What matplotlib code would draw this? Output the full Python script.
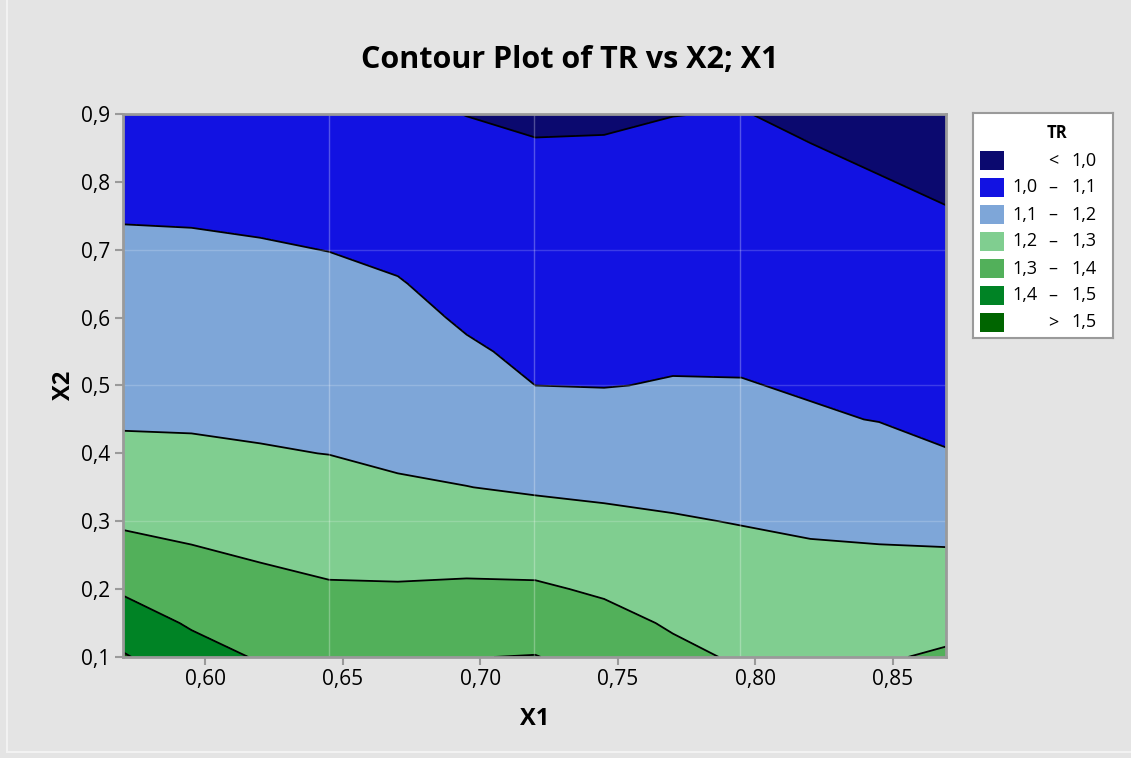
import numpy as np
import matplotlib
matplotlib.use("Agg")
import matplotlib.pyplot as plt
from matplotlib.patches import Rectangle

plt.rcParams['font.family'] = ['Open Sans', 'DejaVu Sans']

# Grid of fitted TR values: one list per X1 column, values run over X2 = 0.10 ... 0.90
x1_vals = [0.570, 0.595, 0.620, 0.645, 0.670, 0.695, 0.720, 0.745, 0.770, 0.795, 0.820, 0.845, 0.870]
x2_vals = [0.10, 0.15, 0.20, 0.25, 0.30, 0.35, 0.40, 0.45, 0.50, 0.55, 0.60, 0.65, 0.70, 0.75, 0.80, 0.85, 0.90]

tr_by_x1 = [
    [1.509, 1.448, 1.389, 1.338, 1.287, 1.257, 1.212, 1.194, 1.178, 1.162, 1.145, 1.129, 1.112, 1.096, 1.079, 1.063, 1.047],
    [1.438, 1.390, 1.350, 1.310, 1.278, 1.248, 1.210, 1.193, 1.177, 1.160, 1.144, 1.127, 1.111, 1.094, 1.078, 1.062, 1.045],
    [1.392, 1.359, 1.325, 1.293, 1.265, 1.236, 1.205, 1.188, 1.172, 1.155, 1.139, 1.122, 1.106, 1.089, 1.073, 1.056, 1.040],
    [1.370, 1.339, 1.308, 1.279, 1.252, 1.225, 1.199, 1.182, 1.165, 1.149, 1.132, 1.116, 1.099, 1.082, 1.066, 1.049, 1.033],
    [1.380, 1.343, 1.307, 1.275, 1.244, 1.207, 1.190, 1.173, 1.156, 1.138, 1.121, 1.104, 1.086, 1.067, 1.049, 1.030, 1.012],
    [1.398, 1.354, 1.312, 1.274, 1.238, 1.201, 1.178, 1.155, 1.132, 1.109, 1.091, 1.076, 1.060, 1.045, 1.030, 1.014, 0.999],
    [1.403, 1.357, 1.311, 1.269, 1.229, 1.191, 1.161, 1.130, 1.100, 1.086, 1.072, 1.059, 1.045, 1.032, 1.018, 1.004, 0.991],
    [1.365, 1.327, 1.289, 1.253, 1.217, 1.185, 1.156, 1.128, 1.098, 1.086, 1.073, 1.059, 1.046, 1.032, 1.019, 1.005, 0.992],
    [1.320, 1.291, 1.263, 1.235, 1.206, 1.181, 1.156, 1.131, 1.1035, 1.091, 1.078, 1.065, 1.051, 1.038, 1.025, 1.012, 0.999],
    [1.290, 1.266, 1.243, 1.220, 1.197, 1.174, 1.151, 1.128, 1.103, 1.090, 1.078, 1.065, 1.053, 1.040, 1.027, 1.015, 1.002],
    [1.285, 1.262, 1.237, 1.212, 1.187, 1.163, 1.138, 1.107, 1.094, 1.081, 1.068, 1.055, 1.041, 1.028, 1.015, 1.002, 0.988],
    [1.292, 1.266, 1.238, 1.209, 1.181, 1.153, 1.124, 1.098, 1.084, 1.071, 1.057, 1.044, 1.030, 1.016, 1.003, 0.989, 0.975],
    [1.311, 1.277, 1.242, 1.208, 1.174, 1.140, 1.102, 1.089, 1.074, 1.060, 1.046, 1.032, 1.018, 1.004, 0.990, 0.976, 0.962],
]

levels = [0.9, 1.0, 1.1, 1.2, 1.3, 1.4, 1.5, 1.6]
band_colors = ['#0b096f', '#1212e2', '#7ea6d8', '#80ce90', '#52b05a', '#008325', '#006500']
legend_labels = [('', '<', '1,0'), ('1,0', '–', '1,1'), ('1,1', '–', '1,2'), ('1,2', '–', '1,3'),
                 ('1,3', '–', '1,4'), ('1,4', '–', '1,5'), ('', '>', '1,5')]

x_ticks = [0.60, 0.65, 0.70, 0.75, 0.80, 0.85]
x_tick_labels = ['0,60', '0,65', '0,70', '0,75', '0,80', '0,85']
y_ticks = [0.1, 0.2, 0.3, 0.4, 0.5, 0.6, 0.7, 0.8, 0.9]
y_tick_labels = ['0,1', '0,2', '0,3', '0,4', '0,5', '0,6', '0,7', '0,8', '0,9']

x_range = (0.5701, 0.8693)
y_range = (0.1, 0.9)

W, H = 1131, 758
fig = plt.figure(figsize=(W / 100, H / 100), dpi=100, facecolor='#e4e4e4')

# thin frame line on the left and bottom of the graph window
fig.add_artist(plt.Line2D([7 / W, 7 / W], [6 / H, 1.0], transform=fig.transFigure, color='#f2f2f2', lw=1.5))
fig.add_artist(plt.Line2D([7 / W, 1.0], [6 / H, 6 / H], transform=fig.transFigure, color='#f2f2f2', lw=1.5))

ax = fig.add_axes([123 / W, 1 - 657 / H, (946 - 123) / W, (657 - 114) / H])
X1, X2 = np.meshgrid(x1_vals, x2_vals)
Z = np.array(tr_by_x1).T

ax.contourf(X1, X2, Z, levels=levels, colors=band_colors)
ax.contour(X1, X2, Z, levels=levels[1:-1], colors='black', linewidths=1.3)

# faint tile lines over the plot region
for k in range(1, 4):
    xv = x_range[0] + k * (x_range[1] - x_range[0]) / 4
    yv = y_range[0] + k * (y_range[1] - y_range[0]) / 4
    ax.axvline(xv, color='white', lw=1.0, alpha=0.28, zorder=3)
    ax.axhline(yv, color='white', lw=1.0, alpha=0.18, zorder=3)

ax.set_xlim(*x_range)
ax.set_ylim(*y_range)
ax.set_xticks(x_ticks)
ax.set_xticklabels(x_tick_labels)
ax.set_yticks(y_ticks)
ax.set_yticklabels(y_tick_labels)
ax.tick_params(axis='both', direction='out', length=6, width=1.5, color='#9a9a9a',
               labelsize=15, labelcolor='black')
ax.tick_params(axis='x', pad=3)
ax.tick_params(axis='y', pad=3)
for s in ax.spines.values():
    s.set_color('#9a9a9a')
    s.set_linewidth(2.0)
    s.set_zorder(5)

ax.set_xlabel('X1', fontsize=17, fontweight='bold', labelpad=12)
ax.set_ylabel('X2', fontsize=17, fontweight='bold', labelpad=4)

fig.text(570 / W, 1 - 60 / H, 'Contour Plot of TR vs X2; X1', ha='center', va='center',
         fontsize=22, fontweight='bold')

# legend panel
lx0, ly0, lx1, ly1 = 973, 113, 1113, 338
lax = fig.add_axes([lx0 / W, 1 - ly1 / H, (lx1 - lx0) / W, (ly1 - ly0) / H])
lax.set_xlim(0, lx1 - lx0)
lax.set_ylim(ly1 - ly0, 0)
lax.set_xticks([])
lax.set_yticks([])
lax.set_facecolor('white')
for s in lax.spines.values():
    s.set_color('#9a9a9a')
    s.set_linewidth(1.5)
lax.text(84, 20, 'TR', ha='center', va='center', fontsize=12, fontweight='bold')
for i, (col, (lo, sym, hi)) in enumerate(zip(band_colors, legend_labels)):
    yc = 47.5 + 27.0 * i
    lax.add_patch(Rectangle((7, yc - 9.8), 24, 19.6, facecolor=col, edgecolor='none'))
    if lo:
        lax.text(64.5, yc, lo, ha='right', va='center', fontsize=13)
    lax.text(80, yc, sym, ha='center', va='center', fontsize=13)
    lax.text(124, yc, hi, ha='right', va='center', fontsize=13)

fig.savefig('out.png', dpi=100, facecolor=fig.get_facecolor())
